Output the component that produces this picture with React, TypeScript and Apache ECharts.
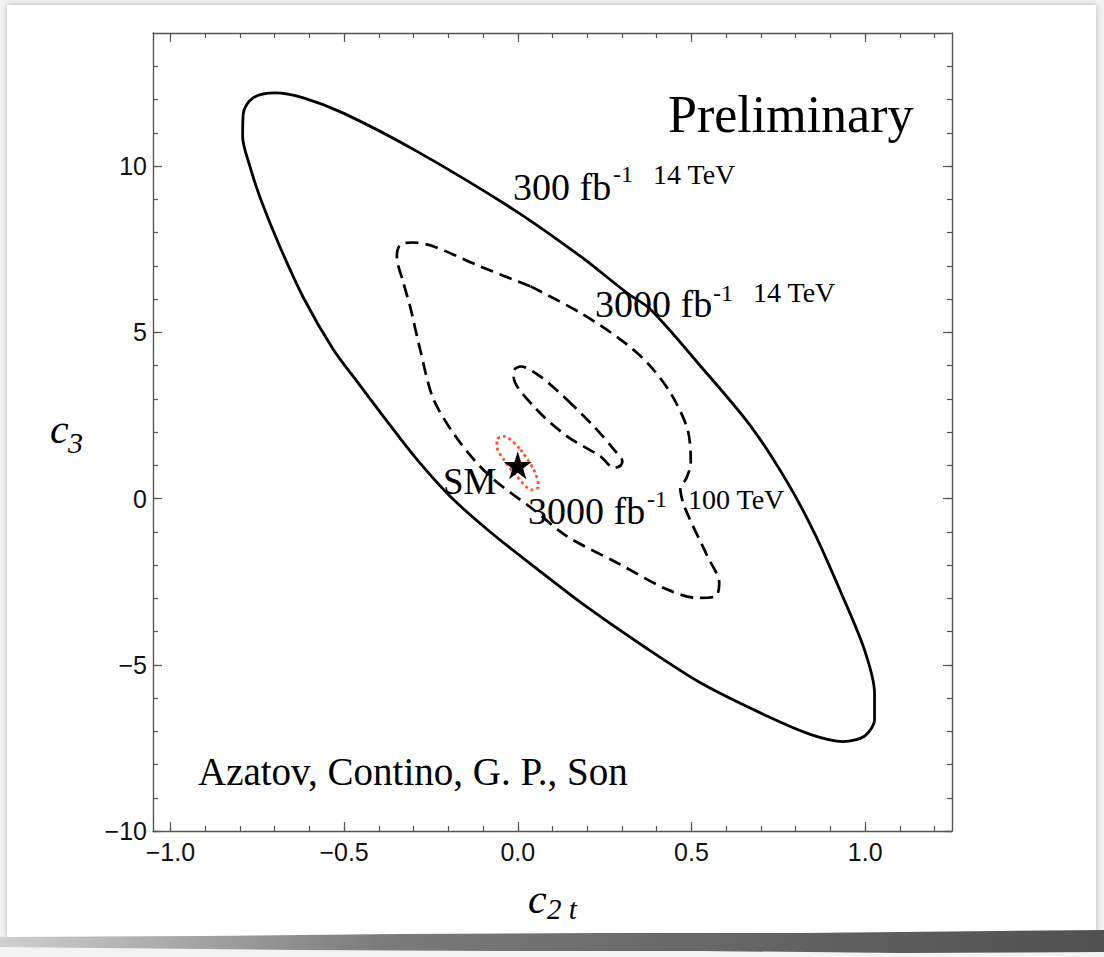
import React, { useEffect, useRef } from "react";
import * as echarts from "echarts";

// ---- data ----
const X_MAJOR = [-1.0, -0.5, 0.0, 0.5, 1.0];
const X_MINOR = [-1.0, -0.9, -0.8, -0.7, -0.6, -0.5, -0.4, -0.3, -0.2, -0.1, 0.0, 0.1, 0.2, 0.3, 0.4, 0.5, 0.6, 0.7, 0.8, 0.9, 1.0, 1.1, 1.2];
const Y_MAJOR = [-10, -5, 0, 5, 10];
const Y_MINOR = [-10, -9, -8, -7, -6, -5, -4, -3, -2, -1, 0, 1, 2, 3, 4, 5, 6, 7, 8, 9, 10, 11, 12, 13];

// 300 fb^-1, 14 TeV (solid)
const OUTER_300_14 = [
  [0.527, 3.97], [0.671, 2.17], [0.777, 0.47], [0.854, -1.04], [0.931, -2.84], [0.998, -4.55],
  [1.027, -5.85], [1.027, -6.65], [0.998, -7.15], [0.936, -7.31], [0.844, -7.1], [0.719, -6.55],
  [0.527, -5.55], [0.363, -4.45], [0.2, -3.27], [0.046, -2.04], [-0.08, -1.0], [-0.194, 0.06],
  [-0.3, 1.3], [-0.387, 2.47], [-0.465, 3.55], [-0.531, 4.48], [-0.615, 6.0], [-0.685, 7.58],
  [-0.74, 9.0], [-0.771, 9.99], [-0.792, 10.89], [-0.79, 11.59], [-0.762, 12.05],
  [-0.699, 12.2], [-0.617, 12.05], [-0.502, 11.59], [-0.29, 10.44], [-0.012, 8.69], [0.181, 7.28],
  [0.315, 6.18], [0.383, 5.68], [0.527, 3.97],
];

// 3000 fb^-1, 14 TeV (dashed)
const MID_3000_14 = [
  [0.037, 6.38], [0.181, 5.58], [0.296, 4.78], [0.373, 4.08], [0.44, 3.17], [0.489, 2.07],
  [0.498, 1.07], [0.485, 0.6], [0.468, 0.3], [0.482, -0.3], [0.546, -1.74], [0.58, -2.54],
  [0.57, -2.94], [0.517, -2.99], [0.431, -2.74], [0.287, -1.94], [0.142, -1.14], [0.046, -0.34],
  [-0.079, 0.66], [-0.165, 1.67], [-0.242, 2.97], [-0.281, 4.48], [-0.31, 5.78], [-0.329, 6.48],
  [-0.348, 7.28], [-0.338, 7.63], [-0.3, 7.7], [-0.242, 7.58], [-0.108, 6.98], [0.037, 6.38],
];

// 3000 fb^-1, 100 TeV (dashed)
const INNER_3000_100 = [
  [0.142, 2.97], [0.219, 2.17], [0.277, 1.47], [0.301, 1.12], [0.296, 0.99], [0.277, 0.92],
  [0.238, 1.27], [0.142, 1.87], [0.046, 2.77], [-0.012, 3.67], [-0.01, 3.87], [0.008, 3.97],
  [0.065, 3.67], [0.142, 2.97],
];

// red dotted contour around SM
const RED_CONTOUR = [
  [0.008, 1.47], [0.046, 0.87], [0.06, 0.36], [0.041, 0.26], [-0.002, 0.66], [-0.04, 1.17],
  [-0.06, 1.57], [-0.06, 1.77], [-0.04, 1.87], [0.008, 1.47],
];

const SM_POINT = [[0, 1]];

const STAR =
  "path://M50,0 L61.2,34.5 L97.6,34.5 L68.2,55.9 L79.4,90.5 L50,69.1 L20.6,90.5 L31.8,55.9 L2.4,34.5 L38.8,34.5 Z";

const fmtX = (v: number) => (v < 0 ? "\u2212" + Math.abs(v).toFixed(1) : v.toFixed(1));
const fmtY = (v: number) => (v < 0 ? "\u2212" + Math.abs(v) : String(v));

const SERIF = '"Liberation Serif", "Times New Roman", serif';
const SANS = '"Liberation Sans", Arial, sans-serif';
const AXIS_COLOR = "#555";

function txt(text: string, x: number, y: number, size: number, italic = false) {
  return {
    type: "text",
    x,
    y,
    z: 50,
    style: {
      text,
      fill: "#000",
      fontSize: size,
      fontFamily: SERIF,
      fontStyle: italic ? "italic" : "normal",
      align: "left",
      verticalAlign: "middle",
    },
  };
}

export default function App() {
  const ref = useRef<HTMLDivElement>(null);
  useEffect(() => {
    if (!ref.current) return;
    const chart = echarts.init(ref.current, undefined, { renderer: "svg" });

    const mkX = (pos: string, vals: number[], len: number, labels: boolean, line: boolean) => ({
      type: "value",
      min: -1.05,
      max: 1.25,
      position: pos,
      axisLine: { show: line, onZero: false, lineStyle: { color: AXIS_COLOR, width: 1.4 } },
      axisTick: { show: true, inside: true, length: len, customValues: vals, lineStyle: { color: AXIS_COLOR, width: 1.2 } },
      axisLabel: labels
        ? { show: true, customValues: X_MAJOR, formatter: fmtX, fontSize: 25, fontFamily: SANS, color: "#111", margin: 8 }
        : { show: false },
      splitLine: { show: false },
    });
    const mkY = (pos: string, vals: number[], len: number, labels: boolean, line: boolean) => ({
      type: "value",
      min: -10,
      max: 14,
      position: pos,
      axisLine: { show: line, onZero: false, lineStyle: { color: AXIS_COLOR, width: 1.4 } },
      axisTick: { show: true, inside: true, length: len, customValues: vals, lineStyle: { color: AXIS_COLOR, width: 1.2 } },
      axisLabel: labels
        ? { show: true, customValues: Y_MAJOR, formatter: fmtY, fontSize: 25, fontFamily: SANS, color: "#111", margin: 6 }
        : { show: false },
      splitLine: { show: false },
    });

    const line = (data: number[][], type: any, color: string, width: number) => ({
      type: "line",
      xAxisIndex: 0,
      yAxisIndex: 0,
      data,
      showSymbol: false,
      symbol: "none",
      smooth: 0.3,
      silent: true,
      lineStyle: { color, width, type },
      z: 5,
    });

    chart.setOption({
      animation: false,
      backgroundColor: "#f3f3f3",
      grid: { left: 153, top: 33, width: 799, height: 798, containLabel: false },
      xAxis: [
        mkX("bottom", X_MAJOR, 9, true, true),
        mkX("bottom", X_MINOR, 5, false, false),
        mkX("top", X_MAJOR, 9, false, true),
        mkX("top", X_MINOR, 5, false, false),
      ],
      yAxis: [
        mkY("left", Y_MAJOR, 9, true, true),
        mkY("left", Y_MINOR, 5, false, false),
        mkY("right", Y_MAJOR, 9, false, true),
        mkY("right", Y_MINOR, 5, false, false),
      ],
      series: [
        line(OUTER_300_14, "solid", "#000", 2.8),
        line(MID_3000_14, [13, 7], "#000", 2.7),
        line(INNER_3000_100, [13, 7], "#000", 2.7),
        line(RED_CONTOUR, [3, 3], "#ff5530", 2.8),
        {
          type: "scatter",
          xAxisIndex: 0,
          yAxisIndex: 0,
          data: SM_POINT,
          symbol: STAR,
          symbolSize: 28,
          itemStyle: { color: "#000", opacity: 1 },
          silent: true,
          z: 10,
        },
      ],
      graphic: [
        {
          type: "rect",
          z: -100,
          shape: { x: 7, y: 5, width: 1089, height: 932 },
          style: { fill: "#fff", shadowBlur: 6, shadowColor: "rgba(0,0,0,0.25)" },
        },
        {
          type: "polygon",
          z: -99,
          shape: {
            points: [
              [0, 937], [200, 936], [400, 934], [600, 933], [800, 933], [1000, 931], [1104, 930],
              [1104, 952], [900, 953], [700, 951], [500, 951], [300, 950], [100, 948], [0, 947],
            ],
          },
          style: {
            fill: {
              type: "linear",
              x: 0, y: 0, x2: 1, y2: 0,
              colorStops: [
                { offset: 0, color: "#cfcfcf" },
                { offset: 0.35, color: "#7a7a7a" },
                { offset: 1, color: "#505050" },
              ],
            },
          },
        },
        txt("Preliminary", 668, 114, 52),
        txt("300 fb", 513, 187, 38),
        txt("-1", 613, 174, 24),
        txt("14 TeV", 653, 174, 28),
        txt("3000 fb", 595, 304, 38),
        txt("-1", 713, 293, 24),
        txt("14 TeV", 753, 292, 28),
        txt("3000 fb", 528, 511, 38),
        txt("-1", 647, 499, 24),
        txt("100 TeV", 688, 499, 28),
        txt("SM", 443, 481, 37),
        txt("Azatov, Contino, G. P., Son", 198, 771, 39),
        txt("c", 50, 429, 42, true),
        txt("3", 68, 442, 30, true),
        txt("c", 528, 899, 42, true),
        txt("2 t", 547, 909, 29, true),
      ],
    });
    return () => chart.dispose();
  }, []);
  return <div ref={ref} style={{ position: "fixed", left: 0, top: 0, width: 1104, height: 957 }} />;
}
